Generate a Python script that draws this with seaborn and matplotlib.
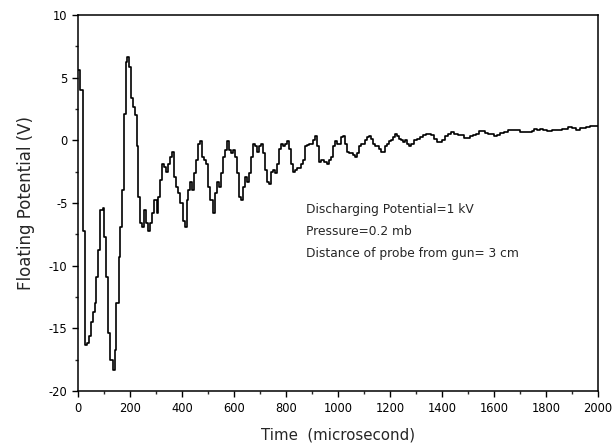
import numpy as np
import pandas as pd
import matplotlib
matplotlib.use("Agg")
import matplotlib.pyplot as plt
import seaborn as sns
from matplotlib.ticker import MultipleLocator

time_us = [0, 8, 18, 28, 34, 43, 49, 58, 65, 71, 77, 85, 95, 100, 108, 115, 123, 134,
           141, 148, 157, 163, 169, 177, 185, 189, 197, 203, 211, 218, 226, 232, 238,
           246, 254, 262, 269, 277, 285, 292, 302, 308, 315, 323, 331, 338, 346, 354,
           362, 369, 377, 385, 394, 403, 412, 418, 425, 431, 438, 446, 454, 462, 468,
           477, 485, 492, 500, 508, 518, 526, 535, 543, 551, 558, 566, 574, 582, 589,
           597, 605, 612, 620, 628, 634, 642, 649, 657, 665, 672, 680, 688, 695, 703,
           711, 718, 726, 734, 742, 751, 758, 766, 774, 782, 789, 797, 805, 812, 820,
           828, 835, 843, 851, 858, 866, 874, 882, 889, 897, 905, 912, 920, 928, 935,
           946, 957, 966, 974, 982, 989, 997, 1005, 1012, 1020, 1028, 1035, 1043, 1051,
           1058, 1066, 1074, 1082, 1089, 1097, 1105, 1112, 1120, 1128, 1135, 1143, 1151,
           1158, 1166, 1174, 1182, 1189, 1197, 1205, 1212, 1220, 1228, 1235, 1243, 1251,
           1258, 1266, 1274, 1282, 1292, 1305, 1315, 1326, 1338, 1349, 1358, 1369, 1380,
           1389, 1400, 1412, 1423, 1435, 1446, 1462, 1474, 1485, 1495, 1508, 1520, 1531,
           1543, 1554, 1566, 1577, 1588, 1600, 1612, 1623, 1638, 1654, 1677, 1700, 1723,
           1746, 1754, 1765, 1777, 1788, 1803, 1823, 1846, 1862, 1885, 1900, 1915, 1931,
           1954, 1969, 2000]
potential_v = [5.6, 4.0, -7.2, -16.3, -16.2, -15.6, -14.5, -13.7, -13.0, -10.9, -8.75,
               -5.6, -5.4, -7.7, -10.9, -15.4, -17.5, -18.3, -16.7, -13.0, -9.3, -6.9,
               -4.0, 2.1, 6.2, 6.6, 5.8, 3.4, 2.65, 2.0, -0.5, -4.5, -6.6, -6.9, -5.6,
               -6.6, -7.2, -6.6, -5.8, -4.8, -5.8, -4.5, -3.2, -1.9, -2.1, -2.5, -1.9,
               -1.3, -0.9, -2.9, -3.7, -4.2, -5.0, -6.4, -6.9, -4.8, -4.0, -3.3, -4.0,
               -2.65, -1.6, -0.3, -0.1, -1.3, -1.6, -1.9, -3.7, -4.8, -5.8, -4.2, -3.3,
               -3.7, -2.65, -1.3, -0.8, -0.1, -0.8, -1.05, -0.8, -1.3, -2.65, -4.5, -4.8,
               -3.7, -2.9, -3.3, -2.65, -1.3, -0.3, -0.5, -0.9, -0.5, -0.3, -1.05, -2.4,
               -3.3, -3.45, -2.5, -2.4, -2.65, -1.9, -0.66, -0.3, -0.5, -0.3, -0.1, -0.66,
               -1.9, -2.5, -2.4, -2.25, -2.25, -1.9, -1.6, -0.5, -0.4, -0.3, -0.3, 0.0,
               0.3, -0.5, -1.7, -1.6, -1.7, -1.9, -1.6, -1.3, -0.5, -0.1, -0.3, -0.3,
               0.27, 0.3, -0.3, -0.9, -1.05, -1.05, -1.2, -1.3, -1.05, -0.5, -0.3, -0.3,
               0.0, 0.27, 0.3, 0.13, -0.3, -0.5, -0.5, -0.66, -0.9, -0.9, -0.5, -0.3,
               -0.1, 0.0, 0.27, 0.5, 0.3, 0.13, 0.0, -0.13, 0.0, -0.3, -0.5, -0.3, 0.0,
               0.13, 0.27, 0.4, 0.5, 0.5, 0.4, 0.13, -0.13, -0.13, 0.05, 0.3, 0.5, 0.66,
               0.5, 0.4, 0.4, 0.2, 0.2, 0.3, 0.4, 0.5, 0.7, 0.7, 0.6, 0.5, 0.5, 0.3, 0.4,
               0.58, 0.66, 0.8, 0.8, 0.66, 0.66, 0.74, 0.93, 0.8, 0.93, 0.8, 0.74, 0.8,
               0.85, 0.93, 1.06, 1.0, 0.85, 1.0, 1.06, 1.1, 1.1]

annotations = ["Discharging Potential=1 kV", "Pressure=0.2 mb",
               "Distance of probe from gun= 3 cm"]
x_label = "Time  (microsecond)"
y_label = "Floating Potential (V)"

sns.set_style("ticks")
plt.rcParams["font.family"] = ["DejaVu Sans"]
plt.rcParams["axes.unicode_minus"] = False

df = pd.DataFrame({"t": time_us, "v": potential_v})

fig = plt.figure(figsize=(6.14, 4.48), dpi=100)
ax = fig.add_axes([0.127, 0.127, 0.847, 0.840])
sns.lineplot(data=df, x="t", y="v", ax=ax, color="black", linewidth=1.2,
             drawstyle="steps-post", estimator=None, sort=False)

ax.set_xlim(0, 2000)
ax.set_ylim(-20, 10)
ax.xaxis.set_major_locator(MultipleLocator(200))
ax.xaxis.set_minor_locator(MultipleLocator(100))
ax.yaxis.set_major_locator(MultipleLocator(5))
ax.yaxis.set_minor_locator(MultipleLocator(2.5))
ax.tick_params(axis="both", which="major", direction="out", length=4, width=1,
               labelsize=8.3, colors="black", pad=3.5)
ax.tick_params(axis="both", which="minor", direction="out", length=2.5, width=1)
for s in ax.spines.values():
    s.set_visible(True)
    s.set_linewidth(1.1)
    s.set_color("black")

ax.set_xlabel(x_label, fontsize=10.8, labelpad=9)
ax.set_ylabel(y_label, fontsize=12, labelpad=10)

for txt, yv in zip(annotations, [-5.5, -7.3, -9.0]):
    ax.text(875, yv, txt, fontsize=8.8, va="center", ha="left")

fig.savefig("out.png", dpi=100)
